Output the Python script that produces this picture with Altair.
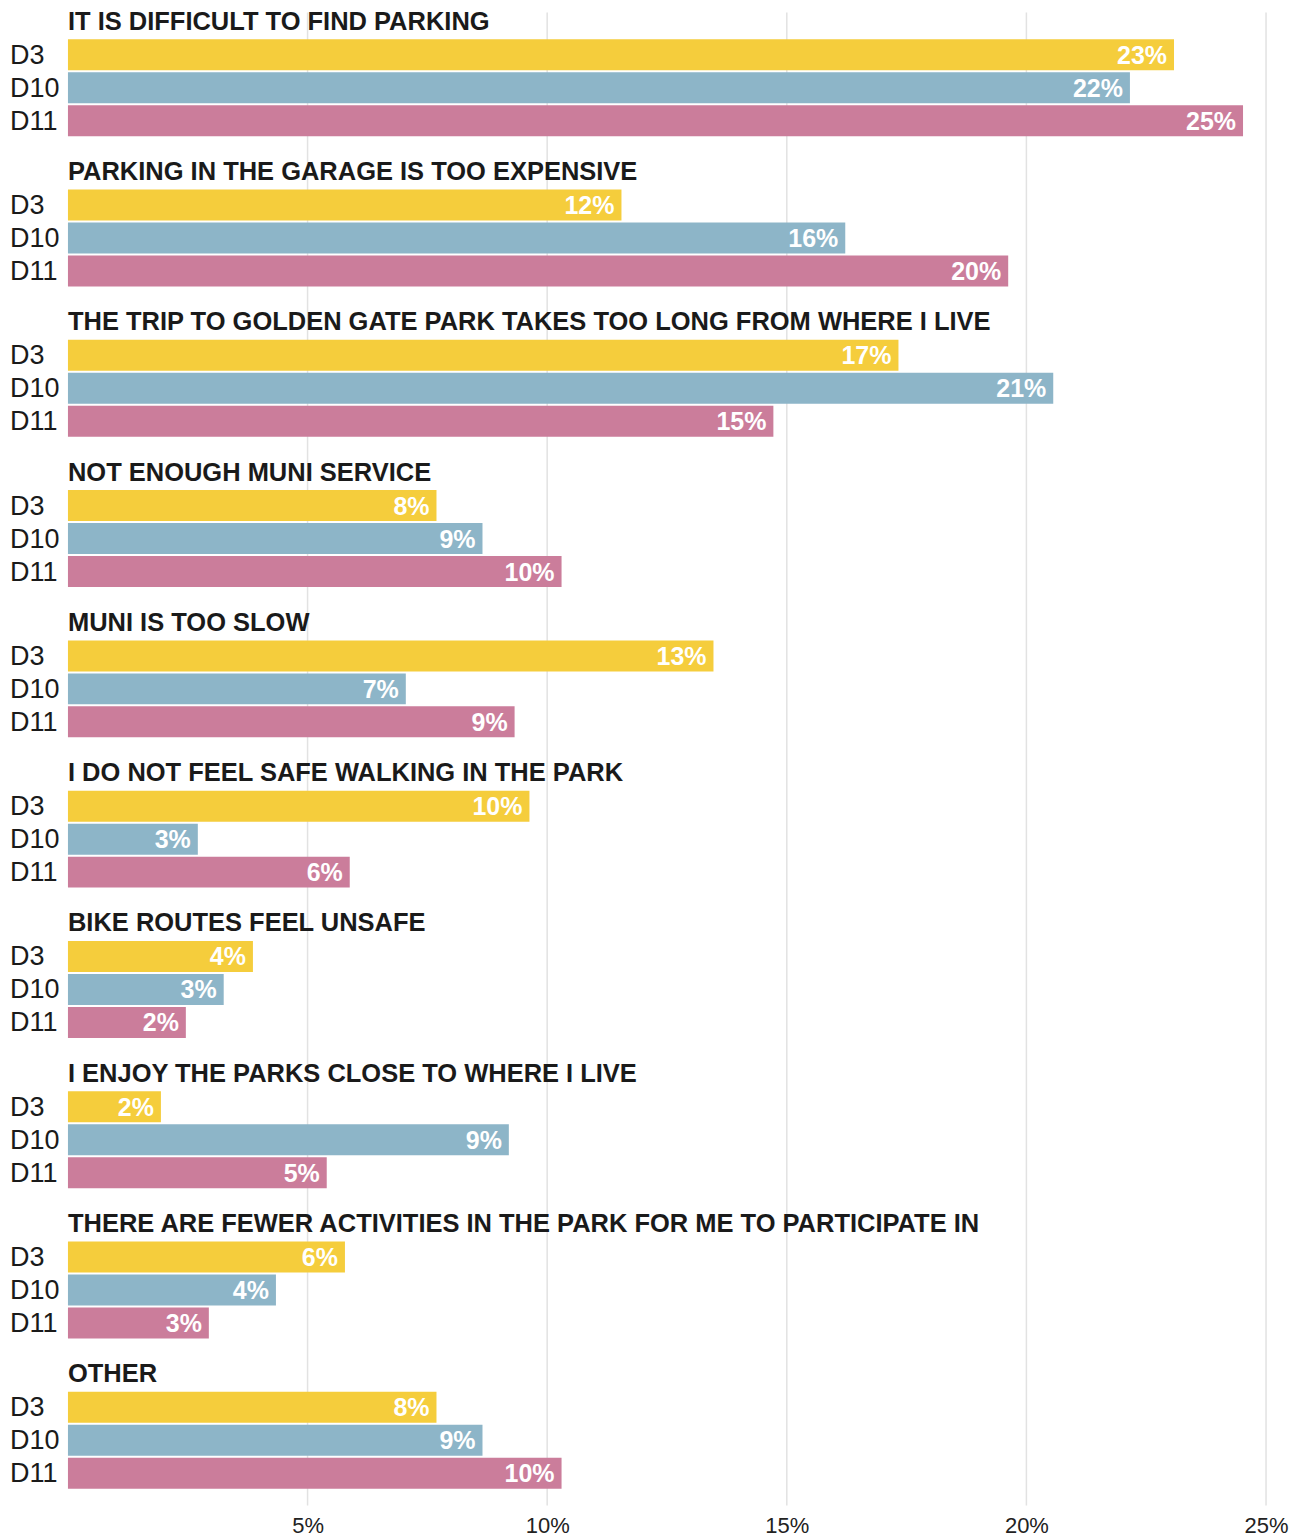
import altair as alt
import pandas as pd

questions = [
    "IT IS DIFFICULT TO FIND PARKING",
    "PARKING IN THE GARAGE IS TOO EXPENSIVE",
    "THE TRIP TO GOLDEN GATE PARK TAKES TOO LONG FROM WHERE I LIVE",
    "NOT ENOUGH MUNI SERVICE",
    "MUNI IS TOO SLOW",
    "I DO NOT FEEL SAFE WALKING IN THE PARK",
    "BIKE ROUTES FEEL UNSAFE",
    "I ENJOY THE PARKS CLOSE TO WHERE I LIVE",
    "THERE ARE FEWER ACTIVITIES IN THE PARK FOR ME TO PARTICIPATE IN",
    "OTHER",
]
districts = ["D3", "D10", "D11"]
d3 = [23.08, 11.55, 17.33, 7.69, 13.47, 9.63, 3.86, 1.94, 5.78, 7.69]
d10 = [22.16, 16.22, 20.56, 8.65, 7.05, 2.71, 3.25, 9.20, 4.34, 8.65]
d11 = [24.52, 19.62, 14.72, 10.30, 9.32, 5.88, 2.46, 5.40, 2.94, 10.30]
colors = ["#F5CD3C", "#8DB5C8", "#CB7D9B"]
ticks = [5, 10, 15, 20, 25]

rows = []
for i, q in enumerate(questions):
    for d, vals in zip(districts, [d3, d10, d11]):
        rows.append({"question": q, "district": d, "value": vals[i]})
df = pd.DataFrame(rows)
titles = pd.DataFrame({"question": questions})
grid = pd.DataFrame({"tick": ticks})

W = 1199
H = 1504
FONT = "Liberation Sans"

x_scale = alt.Scale(domain=[0, 25], nice=False)
y_enc = alt.Y("question:N", sort=questions,
              scale=alt.Scale(paddingInner=0, paddingOuter=0), axis=None)
yoff_enc = alt.YOffset("district:N", sort=districts,
                       scale=alt.Scale(paddingInner=0.0606, paddingOuter=0.809))

gridlines = alt.Chart(grid).mark_rule(color="#e2e2e2", strokeWidth=1.5).encode(
    x=alt.X("tick:Q", scale=x_scale,
            axis=alt.Axis(values=ticks, labelExpr="datum.value + '%'", grid=False,
                          domain=False, ticks=False, tickSize=0, labelPadding=0,
                          labelFlush=False, labelBound=False, labelOverlap=False,
                          labelFont=FONT, labelFontSize=22, labelColor="#222222",
                          title=None)),
    y=alt.value(0),
    y2=alt.value(H - 10),
)

bars = alt.Chart(df).mark_bar().encode(
    x=alt.X("value:Q", scale=x_scale),
    y=y_enc,
    yOffset=yoff_enc,
    color=alt.Color("district:N", sort=districts,
                    scale=alt.Scale(domain=districts, range=colors), legend=None),
)

values = alt.Chart(df).transform_calculate(
    label="format(datum.value, '.0f') + '%'"
).mark_text(
    align="right", baseline="middle", dx=-7, dy=1, color="white",
    font=FONT, fontSize=25, fontWeight="bold",
).encode(
    x=alt.X("value:Q", scale=x_scale),
    y=y_enc,
    yOffset=yoff_enc,
    text="label:N",
)

dlabels = alt.Chart(df).mark_text(
    align="left", baseline="middle", dy=1, color="#1a1a1a",
    font=FONT, fontSize=27,
).encode(
    x=alt.value(-58),
    y=y_enc,
    yOffset=yoff_enc,
    text="district:N",
)

qtitles = alt.Chart(titles).mark_text(
    align="left", baseline="middle", dy=-66, color="#1a1a1a",
    font=FONT, fontSize=25.5, fontWeight="bold",
).encode(
    x=alt.value(0),
    y=y_enc,
    text="question:N",
)

chart = alt.layer(gridlines, bars, values, dlabels, qtitles).properties(
    width=W, height=H,
    autosize=alt.AutoSizeParams(type="none"),
    padding={"left": 60, "top": 4, "right": 30, "bottom": 30},
).configure_view(stroke=None)

chart.save("out.html", embed_options={"renderer": "svg", "actions": False})
